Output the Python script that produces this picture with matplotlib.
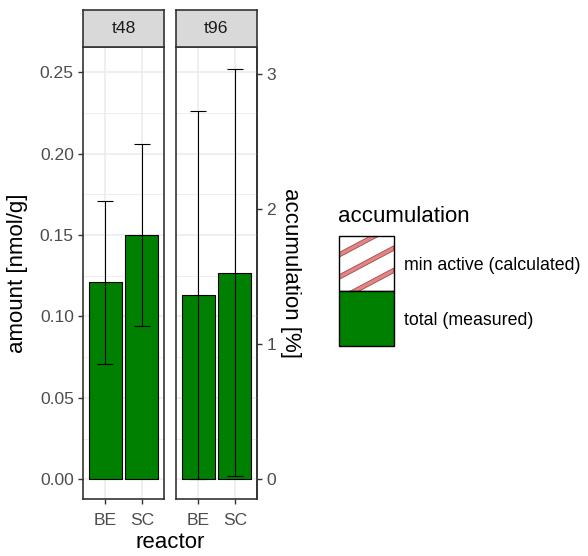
import matplotlib.pyplot as plt
from matplotlib.patches import Rectangle, Polygon, Patch
from matplotlib.legend_handler import HandlerBase
from matplotlib.ticker import FormatStrFormatter, MultipleLocator

plt.rcParams['font.family'] = ['Liberation Sans', 'DejaVu Sans']

# data
reactors = ['BE', 'SC']
times = ['t48', 't96']
amount_t48 = [0.121, 0.150]
err_t48 = [0.050, 0.056]
amount_t96 = [0.113, 0.127]
err_t96 = [0.113, 0.125]
amount_ticks = [0.00, 0.05, 0.10, 0.15, 0.20, 0.25]
pct_ticks = [0, 1, 2, 3]
nmol_per_pct = 0.083  # scaling of the secondary axis

legend_labels = ['min active (calculated)', 'total (measured)']

GREEN = '#008000'
DARK = '#333333'
GRID = '#EBEBEB'
TXT = '#4D4D4D'


class KeyHandler(HandlerBase):
    def __init__(self, face, stripes=False):
        super().__init__()
        self.face = face
        self.stripes = stripes

    def create_artists(self, legend, orig_handle, xdescent, ydescent,
                       width, height, fontsize, trans):
        x0 = -xdescent
        y0 = -ydescent + 0.1 * fontsize
        box = Rectangle((x0, y0), width, height, facecolor=self.face,
                        edgecolor='none', transform=trans)
        arts = [box]
        if self.stripes:
            slope = 0.53
            th = 0.085
            for c in [-0.15, 0.255, 0.66]:
                ya = y0 + (c - th / 2) * height
                yb = ya + slope * width
                poly = Polygon([(x0, ya), (x0 + width, yb),
                                (x0 + width, yb + th * height), (x0, ya + th * height)],
                               facecolor='#E48484', edgecolor='#9E4A4A', lw=0.6,
                               transform=trans)
                poly.set_clip_path(box)
                arts.append(poly)
        border = Rectangle((x0, y0), width, height, facecolor='none',
                           edgecolor='black', lw=1.0, transform=trans)
        arts.append(border)
        return arts


fig = plt.figure(figsize=(5.88, 5.56), dpi=100)
W, H = 588, 556


def fx(px):
    return px / W


def fy(py):
    return 1 - py / H


panel_lefts = [83, 176]
panel_w = 81
panel_top, panel_bot = 47, 499
strip_top = 10

values = [amount_t48, amount_t96]
errors = [err_t48, err_t96]
axes = []
for i, t in enumerate(times):
    ax = fig.add_axes([fx(panel_lefts[i]), fy(panel_bot), panel_w / W,
                       (panel_bot - panel_top) / H])
    x = list(range(len(reactors)))
    ax.bar(x, values[i], width=0.9, color=GREEN, edgecolor='black', lw=0.8, zorder=2)
    ax.errorbar(x, values[i], yerr=errors[i], fmt='none', ecolor='black',
                elinewidth=0.8, capsize=6, capthick=0.8, zorder=3)
    ax.set_xlim(-0.6, 1.6)
    ax.set_ylim(-0.0121, 0.2655)
    ax.set_xticks(x)
    ax.set_xticklabels(reactors)
    ax.set_yticks(amount_ticks)
    ax.yaxis.set_minor_locator(MultipleLocator(0.025))
    ax.yaxis.set_major_formatter(FormatStrFormatter('%.2f'))
    ax.grid(True, which='major', color=GRID, lw=1.1)
    ax.grid(True, which='minor', axis='y', color=GRID, lw=0.6)
    ax.set_axisbelow(True)
    ax.tick_params(which='minor', length=0)
    ax.tick_params(which='major', length=3.6, width=1.0, color=DARK,
                   labelcolor=TXT, labelsize=12.6)
    ax.tick_params(axis='x', pad=6.5)
    ax.tick_params(axis='y', pad=3)
    for sp in ax.spines.values():
        sp.set_color(DARK)
        sp.set_linewidth(1.2)
    if i > 0:
        ax.tick_params(axis='y', left=False, labelleft=False)
    axes.append(ax)

    # facet strip
    sax = fig.add_axes([fx(panel_lefts[i]), fy(panel_top), panel_w / W,
                        (panel_top - strip_top) / H])
    sax.set_facecolor('#D9D9D9')
    sax.set_xticks([])
    sax.set_yticks([])
    for sp in sax.spines.values():
        sp.set_color(DARK)
        sp.set_linewidth(1.2)
    sax.text(0.5, 0.5, t, ha='center', va='center', fontsize=12.6,
             color='#1A1A1A', transform=sax.transAxes)

sec = axes[1].secondary_yaxis('right', functions=(lambda a: a / nmol_per_pct,
                                                  lambda p: p * nmol_per_pct))
sec.set_yticks(pct_ticks)
sec.tick_params(length=3.6, width=1.0, color=DARK, labelcolor=TXT,
                labelsize=12.6, pad=3)
sec.spines['right'].set_color(DARK)
sec.spines['right'].set_linewidth(1.2)

fig.text(fx(18), fy(273), 'amount [nmol/g]', rotation=90, ha='center',
         va='center', fontsize=16)
fig.text(fx(291), fy(273), 'accumulation [%]', rotation=270, ha='center',
         va='center', fontsize=16)
fig.text(fx(170), fy(543), 'reactor', ha='center', va='center', fontsize=16)

# legend
h_min = Patch(facecolor='white', edgecolor='black')
h_tot = Patch(facecolor=GREEN, edgecolor='black')
fig.text(fx(338), fy(216), 'accumulation', ha='left', va='center', fontsize=16)
fig.legend([h_min, h_tot], legend_labels,
           handler_map={h_min: KeyHandler('white', stripes=True),
                        h_tot: KeyHandler(GREEN)},
           loc='upper left', bbox_to_anchor=(fx(339), fy(238)),
           frameon=False, borderpad=0, borderaxespad=0, handletextpad=0.56,
           labelspacing=0, handlelength=3.09, handleheight=4.38, fontsize=12.8)

fig.savefig('out.png', dpi=100)
